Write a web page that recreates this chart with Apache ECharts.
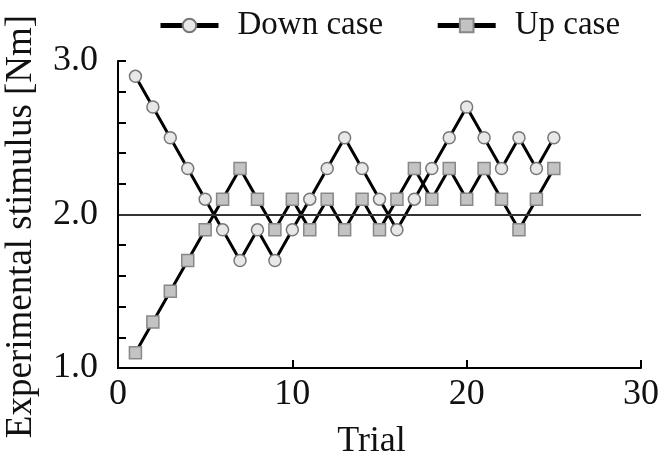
<!DOCTYPE html>
<html>
<head>
<meta charset="utf-8">
<title>Staircase trials</title>
<script src="https://cdn.jsdelivr.net/npm/echarts@6/dist/echarts.min.js"></script>
<style>
  html, body { margin: 0; padding: 0; background: #fff; }
  #chart { width: 660px; height: 456px; }
</style>
</head>
<body>
<div id="chart"></div>
<script>
// Trial numbers of the staircase procedure
const trials = [1, 2, 3, 4, 5, 6, 7, 8, 9, 10, 11, 12, 13, 14, 15, 16, 17, 18, 19, 20, 21, 22, 23, 24, 25];

// Stimulus level presented on each trial [Nm]
const downCase = [2.9, 2.7, 2.5, 2.3, 2.1, 1.9, 1.7, 1.9, 1.7, 1.9, 2.1, 2.3, 2.5, 2.3, 2.1, 1.9, 2.1, 2.3, 2.5, 2.7, 2.5, 2.3, 2.5, 2.3, 2.5];
const upCase   = [1.1, 1.3, 1.5, 1.7, 1.9, 2.1, 2.3, 2.1, 1.9, 2.1, 1.9, 2.1, 1.9, 2.1, 1.9, 2.1, 2.3, 2.1, 2.3, 2.1, 2.3, 2.1, 1.9, 2.1, 2.3];

// Reference stimulus level
const referenceLevel = 2.0;

// Axis ranges and labelled ticks
const xTicks = [0, 10, 20, 30];
const yTicks = [1.0, 2.0, 3.0];

const FONT = "'Liberation Serif', 'Times New Roman', serif";
const INK = '#111';

const pair = (xs, ys) => xs.map((x, i) => [x, ys[i]]);

const xMin = xTicks[0], xMax = xTicks[xTicks.length - 1];
const yMin = yTicks[0], yMax = yTicks[yTicks.length - 1];

const chart = echarts.init(document.getElementById('chart'), null, { renderer: 'canvas' });

chart.setOption({
  animation: false,
  backgroundColor: '#ffffff',
  textStyle: { fontFamily: FONT, color: INK },
  grid: { left: 118, right: 19, top: 61, bottom: 88, containLabel: false, outerBoundsMode: 'none' },
  legend: {
    top: 4,
    left: 153,
    itemWidth: 58,
    itemHeight: 17,
    itemGap: 52,
    textStyle: { fontFamily: FONT, fontSize: 33, color: INK, padding: [0, 0, 0, 14] },
    lineStyle: { width: 5, color: '#000' },
    data: ['Down case', 'Up case']
  },
  xAxis: {
    type: 'value',
    min: xMin,
    max: xMax,
    interval: 10,
    name: 'Trial',
    nameLocation: 'middle',
    nameGap: 56,
    nameTextStyle: { fontFamily: FONT, fontSize: 36, color: INK, padding: [0, 16, 0, 0] },
    axisLine: { show: true, onZero: false, lineStyle: { color: '#000', width: 2 } },
    axisTick: { show: true, inside: true, length: 8, lineStyle: { color: '#000', width: 2 } },
    axisLabel: { fontFamily: FONT, fontSize: 36, color: INK, margin: 9 },
    splitLine: { show: false }
  },
  yAxis: {
    type: 'value',
    min: yMin,
    max: yMax,
    interval: 0.2,
    name: 'Experimental stimulus [Nm]',
    nameLocation: 'middle',
    nameGap: 78,
    nameTextStyle: { fontFamily: FONT, fontSize: 37, color: INK, padding: [0, 24, 0, 0] },
    axisLine: { show: true, onZero: false, lineStyle: { color: '#000', width: 2 } },
    axisTick: { show: true, inside: true, length: 8, lineStyle: { color: '#000', width: 2 } },
    axisLabel: {
      fontFamily: FONT, fontSize: 36, color: INK, margin: 20,
      formatter: v => (yTicks.some(t => Math.abs(t - v) < 1e-6) ? v.toFixed(1) : '')
    },
    splitLine: { show: false }
  },
  series: [
    {
      // Horizontal reference level
      name: 'reference',
      type: 'line',
      data: [],
      z: 1,
      silent: true,
      markLine: {
        silent: true,
        symbol: ['none', 'none'],
        label: { show: false },
        lineStyle: { color: '#333', width: 2, type: 'solid' },
        data: [{ yAxis: referenceLevel }]
      }
    },
    {
      name: 'Down case',
      type: 'line',
      z: 3,
      data: pair(trials, downCase),
      symbol: 'circle',
      symbolSize: 12,
      lineStyle: { color: '#000', width: 3 },
      itemStyle: { color: '#e8e8e8', borderColor: '#777', borderWidth: 1.5 }
    },
    {
      name: 'Up case',
      type: 'line',
      z: 2,
      data: pair(trials, upCase),
      symbol: 'rect',
      symbolSize: 12,
      lineStyle: { color: '#000', width: 3 },
      itemStyle: { color: '#c3c3c3', borderColor: '#888', borderWidth: 1.5 }
    }
  ]
});

// Left and bottom frame of the plot area, placed through the grid's own scales
const corner = chart.convertToPixel({ gridIndex: 0 }, [xMin, yMin]);
const topLeft = chart.convertToPixel({ gridIndex: 0 }, [xMin, yMax]);
const bottomRight = chart.convertToPixel({ gridIndex: 0 }, [xMax, yMin]);
chart.setOption({
  graphic: [{
    type: 'polyline',
    silent: true,
    z: 100,
    shape: { points: [topLeft, corner, bottomRight] },
    style: { stroke: '#000', lineWidth: 2, fill: null, lineJoin: 'miter' }
  }]
});
</script>
</body>
</html>
